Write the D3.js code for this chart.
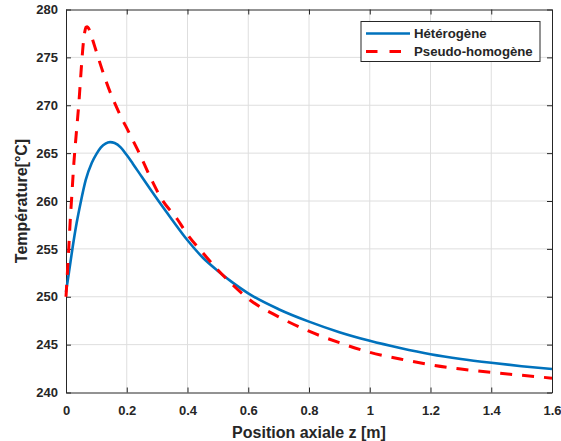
<!DOCTYPE html>
<html>
<head>
<meta charset="utf-8">
<script src="https://cdn.jsdelivr.net/npm/d3@7"></script>
<style>
html,body{margin:0;padding:0;background:#fff;}
svg{display:block;}
text{font-family:"Liberation Sans",Arial,sans-serif;font-weight:bold;fill:#262626;}
</style>
</head>
<body>
<script>
// ---- data ----
const xTicks = [0, 0.2, 0.4, 0.6, 0.8, 1, 1.2, 1.4, 1.6];
const yTicks = [240, 245, 250, 255, 260, 265, 270, 275, 280];
const seriesNames = ["Hétérogène", "Pseudo-homogène"];
const heteroZ = [0,0.01,0.022,0.035,0.048,0.065,0.085,0.1,0.115,0.13,0.145,0.16,0.18,0.2,0.22,0.25,0.276,0.3,0.348,0.4,0.45,0.5,0.55,0.6,0.7,0.8,0.9,1.0,1.1,1.2,1.3,1.4,1.5,1.6];
const heteroT = [250.5,252.6,255.2,257.7,259.8,262.2,264.0,264.9,265.6,266.0,266.15,266.05,265.6,264.8,263.9,262.5,261.3,260.2,258.1,255.9,254.1,252.7,251.45,250.35,248.7,247.4,246.3,245.4,244.65,244.0,243.5,243.1,242.75,242.45];
const pseudoZ = [0,0.009,0.014,0.019,0.026,0.031,0.037,0.043,0.048,0.053,0.058,0.062,0.066,0.07,0.075,0.082,0.09,0.1,0.117,0.145,0.178,0.205,0.238,0.282,0.315,0.364,0.4,0.45,0.5,0.55,0.6,0.7,0.8,0.9,1.0,1.1,1.2,1.3,1.4,1.5,1.6];
const pseudoT = [250,255,258,260.5,264,266,268.2,270.5,272.8,275,276.8,277.7,278.15,278.2,278.0,277.4,276.6,275.6,273.9,271.4,269.0,267.3,265.2,262.2,260.2,258.2,256.5,254.6,252.8,251.2,249.8,247.9,246.4,245.2,244.2,243.5,242.9,242.45,242.1,241.8,241.5];

// ---- layout ----
const W = 561, H = 441;
const L = 66, R = 552, T = 9.5, B = 392.5;

const svg = d3.select("body").append("svg").attr("width", W).attr("height", H);
const x = d3.scaleLinear().domain([0, 1.6]).range([L, R]);
const y = d3.scaleLinear().domain([240, 280]).range([B, T]);

// grid
const g = svg.append("g");
g.selectAll(".gx").data(xTicks.slice(1, -1)).enter().append("line")
  .attr("x1", d => x(d)).attr("x2", d => x(d)).attr("y1", T).attr("y2", B)
  .attr("stroke", "#dedede").attr("stroke-width", 1);
g.selectAll(".gy").data(yTicks.slice(1, -1)).enter().append("line")
  .attr("y1", d => y(d)).attr("y2", d => y(d)).attr("x1", L).attr("x2", R)
  .attr("stroke", "#dedede").attr("stroke-width", 1);

// axes
const axCol = "#262626";
const xb = svg.append("g").attr("transform", `translate(0,${B})`)
  .call(d3.axisBottom(x).tickValues(xTicks).tickFormat(d3.format("~g")).tickSizeInner(-5).tickSizeOuter(0).tickPadding(13));
const xt = svg.append("g").attr("transform", `translate(0,${T})`)
  .call(d3.axisTop(x).tickValues(xTicks).tickFormat("").tickSizeInner(-5).tickSizeOuter(0));
const yl = svg.append("g").attr("transform", `translate(${L},0)`)
  .call(d3.axisLeft(y).tickValues(yTicks).tickSizeInner(-5).tickSizeOuter(0).tickPadding(8));
const yr = svg.append("g").attr("transform", `translate(${R},0)`)
  .call(d3.axisRight(y).tickValues(yTicks).tickFormat("").tickSizeInner(-5).tickSizeOuter(0));
[xb, xt, yl, yr].forEach(a => {
  a.selectAll("path").attr("stroke", axCol).attr("stroke-width", 1);
  a.selectAll("line").attr("stroke", axCol).attr("stroke-width", 1);
  a.selectAll("text").attr("fill", axCol).style("font-size", "13px").style("font-weight", "bold")
    .style("font-family", "'Liberation Sans', Arial, sans-serif");
});

// lines
const line = d3.line().x(d => x(d[0])).y(d => y(d[1])).curve(d3.curveMonotoneX);
const hetero = heteroZ.map((z, i) => [z, heteroT[i]]);
const pseudo = pseudoZ.map((z, i) => [z, pseudoT[i]]);
svg.append("path").datum(hetero).attr("d", line).attr("fill", "none")
  .attr("stroke", "#0072BD").attr("stroke-width", 2.6);
svg.append("path").datum(pseudo).attr("d", line).attr("fill", "none")
  .attr("stroke", "#FF0000").attr("stroke-width", 3).attr("stroke-dasharray", "12,10");

// labels
svg.append("text").attr("x", (L + R) / 2).attr("y", 438).attr("text-anchor", "middle")
  .style("font-size", "16px").text("Position axiale z [m]");
svg.append("text").attr("transform", `translate(27,${(T + B) / 2}) rotate(-90)`).attr("text-anchor", "middle")
  .style("font-size", "16px").text("Température[°C]");

// legend
const lg = svg.append("g");
lg.append("rect").attr("x", 361).attr("y", 21.5).attr("width", 179).attr("height", 40)
  .attr("fill", "#fff").attr("stroke", axCol).attr("stroke-width", 1);
const rows = [
  {name: seriesNames[0], color: "#0072BD", dash: null, w: 2.6, yy: 33.5},
  {name: seriesNames[1], color: "#FF0000", dash: "11.5,12", w: 3, yy: 51.5}
];
rows.forEach(r => {
  lg.append("line").attr("x1", 366).attr("x2", 410).attr("y1", r.yy).attr("y2", r.yy)
    .attr("stroke", r.color).attr("stroke-width", r.w).attr("stroke-dasharray", r.dash);
  lg.append("text").attr("x", 414).attr("y", r.yy + 4.8).style("font-size", "13.2px").text(r.name);
});
</script>
</body>
</html>
